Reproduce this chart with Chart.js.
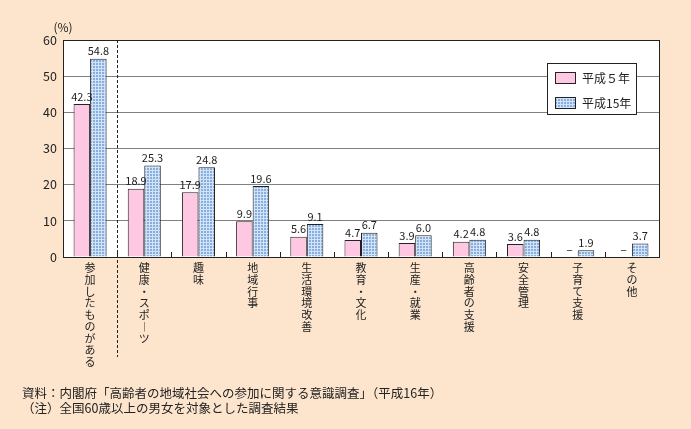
<!DOCTYPE html>
<html><head><meta charset="utf-8">
<script src="https://cdn.jsdelivr.net/npm/chart.js@4/dist/chart.umd.min.js"></script>
<style>html,body{margin:0;padding:0;background:#FDE5CD;}</style>
</head><body>
<canvas id="c" width="691" height="429"></canvas>
<script>
const categories = ['参加したものがある','健康・スポ︱ツ','趣味','地域行事','生活環境改善','教育・文化','生産・就業','高齢者の支援','安全管理','子育て支援','その他'];
const seriesNames = ['平成５年','平成15年'];
const valuesH5 = [42.3, 18.9, 17.9, 9.9, 5.6, 4.7, 3.9, 4.2, 3.6, null, null];
const valuesH15 = [54.8, 25.3, 24.8, 19.6, 9.1, 6.7, 6.0, 4.8, 4.8, 1.9, 3.7];
const yTicks = [0, 10, 20, 30, 40, 50, 60];
const unitLabel = '(%)';
const sourceText = '資料：内閣府「高齢者の地域社会への参加に関する意識調査」（平成16年）';
const noteText = '（注）全国60歳以上の男女を対象とした調査結果';

const FONT = "'Noto Sans CJK JP', 'Noto Sans', sans-serif";
Chart.defaults.font.family = FONT;

// pattern for 平成15年
const pc = document.createElement('canvas'); pc.width = 3; pc.height = 3;
const pctx = pc.getContext('2d');
pctx.fillStyle = '#D3E3F5'; pctx.fillRect(0,0,3,3);
pctx.fillStyle = '#86AEE0'; pctx.fillRect(0,0,2,2);
const bluePattern = pctx.createPattern(pc, 'repeat');
const pink = '#FFC8E2';

const decor = {
  id: 'decor',
  beforeDraw(chart) {
    const {ctx, chartArea: a} = chart;
    ctx.save();
    ctx.fillStyle = '#FDE5CD';
    ctx.fillRect(0, 0, chart.width, chart.height);
    ctx.fillStyle = '#FFFFFF';
    ctx.fillRect(a.left, a.top, a.right - a.left, a.bottom - a.top);
    ctx.restore();
  },
  afterDatasetsDraw(chart) {
    const {ctx, chartArea: a, scales: {x, y}} = chart;
    ctx.save();
    // tick marks at category boundaries
    ctx.strokeStyle = '#222'; ctx.lineWidth = 1;
    for (let i = 1; i < categories.length; i++) {
      const bx = Math.round((x.getPixelForValue(i - 1) + x.getPixelForValue(i)) / 2) + 0.5;
      ctx.beginPath(); ctx.moveTo(bx, a.bottom); ctx.lineTo(bx, a.bottom - 5); ctx.stroke();
    }
    // dashed separator
    const sx = Math.round((x.getPixelForValue(0) + x.getPixelForValue(1)) / 2) + 0.5;
    ctx.setLineDash([3, 2]);
    ctx.beginPath(); ctx.moveTo(sx, a.top); ctx.lineTo(sx, 357); ctx.stroke();
    ctx.setLineDash([]);
    // frame
    ctx.strokeStyle = '#222';
    ctx.strokeRect(Math.round(a.left) + 0.5, Math.round(a.top) + 0.5, Math.round(a.right - a.left), Math.round(a.bottom - a.top));
    // data labels
    ctx.fillStyle = '#222';
    ctx.font = '11px ' + FONT;
    ctx.textAlign = 'center'; ctx.textBaseline = 'bottom';
    chart.data.datasets.forEach((ds, di) => {
      const meta = chart.getDatasetMeta(di);
      meta.data.forEach((bar, i) => {
        const v = ds.data[i];
        if (v === null) {
          ctx.fillText('−', bar.x, y.getPixelForValue(0) - 1);
        } else {
          ctx.fillText(v.toFixed(1), bar.x, bar.y - 2);
        }
      });
    });
    // legend
    const lx = 547, ly = 63, lw = 89, lh = 51;
    ctx.fillStyle = '#FFFFFF'; ctx.fillRect(lx, ly, lw, lh);
    ctx.strokeStyle = '#222'; ctx.strokeRect(lx + 0.5, ly + 0.5, lw, lh);
    ctx.font = '12px ' + FONT; ctx.textAlign = 'left'; ctx.textBaseline = 'middle';
    chart.data.datasets.forEach((ds, di) => {
      const sy = ly + 9 + di * 25;
      ctx.fillStyle = ds.backgroundColor; ctx.fillRect(555, sy, 20, 11);
      ctx.strokeStyle = '#222'; ctx.strokeRect(555.5, sy + 0.5, 20, 11);
      ctx.fillStyle = '#222'; ctx.fillText(ds.label, 582, sy + 6);
    });
    // unit label
    ctx.textAlign = 'center';
    ctx.fillText(unitLabel, 63, 27);
    // footer
    ctx.font = '12.5px ' + FONT;
    ctx.textAlign = 'left';
    ctx.fillText(sourceText, 22, 393);
    ctx.fillText(noteText, 22, 408);
    ctx.restore();
  }
};

new Chart(document.getElementById('c'), {
  type: 'bar',
  data: {
    labels: categories.map(s => Array.from(s)),
    datasets: [
      {label: seriesNames[0], data: valuesH5, backgroundColor: pink, borderColor: '#222', borderWidth: 1, categoryPercentage: 0.61, barPercentage: 1},
      {label: seriesNames[1], data: valuesH15, backgroundColor: bluePattern, borderColor: '#222', borderWidth: 1, categoryPercentage: 0.61, barPercentage: 1}
    ]
  },
  options: {
    responsive: false,
    animation: false,
    devicePixelRatio: 1,
    layout: {padding: {left: 0, top: 40, right: 32, bottom: 0}},
    plugins: {legend: {display: false}, tooltip: {enabled: false}},
    scales: {
      y: {
        min: 0, max: 60,
        afterBuildTicks: s => { s.ticks = yTicks.map(v => ({value: v})); },
        afterFit: s => { s.width = 63; },
        ticks: {color: '#222', font: {size: 12.5}, padding: 6},
        grid: {color: '#808080', drawTicks: false},
        border: {display: false}
      },
      x: {
        afterFit: s => { s.height = 172; },
        ticks: {color: '#222', font: {size: 11, lineHeight: 1.07}, maxRotation: 0, minRotation: 0, autoSkip: false, padding: 5},
        grid: {display: false, drawTicks: false},
        border: {display: false}
      }
    }
  },
  plugins: [decor]
});
</script>
</body></html>
